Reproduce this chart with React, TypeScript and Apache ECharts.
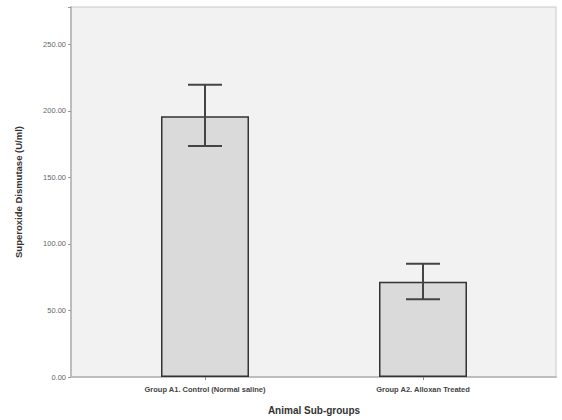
import React, { useEffect, useRef } from "react";
import * as echarts from "echarts";

const categories = ["Group A1. Control (Normal saline)", "Group A2. Alloxan Treated"];
const means = [196, 71.5];
const lowerCI = [173.5, 58.5];
const upperCI = [219.5, 85];
const yTicks = [0, 50, 100, 150, 200, 250];

export default function App() {
  const ref = useRef<HTMLDivElement>(null);
  useEffect(() => {
    const chart = echarts.init(ref.current!, null, { renderer: "svg" });
    const errData = categories.map((c, i) => [i, lowerCI[i], upperCI[i]]);
    chart.setOption({
      animation: false,
      backgroundColor: "#ffffff",
      grid: [
        { left: 71, right: 6, top: 7, bottom: 43, show: true, backgroundColor: "#f2f2f2", borderColor: "#c8c8c8", borderWidth: 1 },
        { left: 96, right: 30, top: 7, bottom: 43 },
      ],
      xAxis: [
        { type: "category", gridIndex: 0, data: ["", ""], axisLine: { show: true, lineStyle: { color: "#bdbdbd", width: 2 } }, axisTick: { show: false }, axisLabel: { show: false } },
        {
          type: "category", gridIndex: 1, data: categories,
          axisLine: { show: false },
          axisTick: { show: true, alignWithLabel: true, length: 3, lineStyle: { color: "#888" } },
          axisLabel: { fontSize: 7.5, fontWeight: "bold", color: "#444", fontFamily: "Liberation Sans", margin: 8 },
          name: "Animal Sub-groups", nameLocation: "middle", nameGap: 28,
          nameTextStyle: { fontSize: 10, fontWeight: "bold", color: "#333", fontFamily: "Liberation Sans" },
        },
      ],
      yAxis: [
        {
          type: "value", gridIndex: 0, min: 0, max: 278, interval: 50,
          axisLine: { show: true, lineStyle: { color: "#bdbdbd", width: 2 } },
          axisTick: { show: true, length: 3, lineStyle: { color: "#999" } },
          splitLine: { show: false },
          axisLabel: { fontSize: 7.5, color: "#666", fontFamily: "Liberation Sans", margin: 5, formatter: (v: number) => yTicks.includes(v) ? v.toFixed(2) : "" },
          name: "Superoxide Dismutase (U/ml)", nameLocation: "middle", nameGap: 48,
          nameTextStyle: { fontSize: 9.5, fontWeight: "bold", color: "#333", fontFamily: "Liberation Sans" },
        },
        { type: "value", gridIndex: 1, min: 0, max: 278, show: false },
      ],
      series: [
        {
          type: "bar", xAxisIndex: 1, yAxisIndex: 1, data: means, barWidth: 88,
          itemStyle: { color: "#dadada", borderColor: "#333", borderWidth: 1.5 },
        },
        {
          type: "custom", xAxisIndex: 1, yAxisIndex: 1, data: errData,
          renderItem: (params: any, api: any) => {
            const x = api.value(0);
            const lo = api.coord([x, api.value(1)]);
            const hi = api.coord([x, api.value(2)]);
            const half = 17;
            const style = { stroke: "#444", lineWidth: 2 };
            return {
              type: "group",
              children: [
                { type: "line", shape: { x1: lo[0], y1: lo[1], x2: hi[0], y2: hi[1] }, style },
                { type: "line", shape: { x1: hi[0] - half, y1: hi[1], x2: hi[0] + half, y2: hi[1] }, style },
                { type: "line", shape: { x1: lo[0] - half, y1: lo[1], x2: lo[0] + half, y2: lo[1] }, style },
              ],
            };
          },
          z: 5,
        },
      ],
    });
    return () => chart.dispose();
  }, []);
  return <div ref={ref} style={{ width: 562, height: 420, position: "absolute", left: 0, top: 0 }} />;
}
